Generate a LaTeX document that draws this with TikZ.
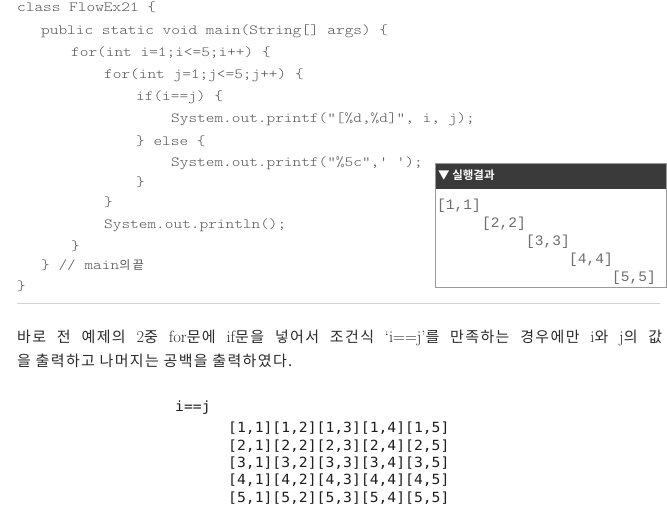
\documentclass[tikz,border=0pt]{standalone}
\usepackage{fontspec}
\newfontfamily\codefont{lmmonolt10-regular.otf}[FakeStretch=1.18]
\newfontfamily\kr{Noto Sans CJK KR}
\newfontfamily\krp{Noto Sans CJK KR}[LetterSpace=9]
\newfontfamily\krb{Noto Sans CJK KR Bold}
\newfontfamily\resfont{Liberation Mono}
\newfontfamily\gridfont{DejaVu Sans Mono}[FakeStretch=1.05]
\newcommand\latpart[1]{{\rmfamily\fontsize{16.5}{24}\selectfont #1}}
\definecolor{codegray}{HTML}{555555}
\definecolor{resgray}{HTML}{6E6E6E}
\definecolor{gridblack}{HTML}{1E1E1E}
\definecolor{paratext}{HTML}{2B2B2B}
\definecolor{headbar}{HTML}{3A3A3A}
\definecolor{boxline}{HTML}{9A9A9A}
\definecolor{rule}{HTML}{D2D2D2}
\tikzset{
  code/.style={anchor=base west, inner sep=0pt, text=codegray, font=\codefont\fontsize{14}{14}\selectfont},
  res/.style={anchor=base west, inner sep=0pt, text=resgray, font=\resfont\fontsize{14.5}{14.5}\selectfont},
  gridrow/.style={anchor=base west, inner sep=0pt, text=gridblack, font=\gridfont\fontsize{14}{14}\selectfont},
  para/.style={anchor=base west, inner sep=0pt, text=paratext, font=\krp\fontsize{15}{24}\selectfont},
  head/.style={anchor=base west, inner sep=0pt, text=white, font=\krb\fontsize{11.5}{11.5}\selectfont},
  resbox/.style={draw=boxline, line width=0.8pt},
  headfill/.style={fill=headbar, draw=headbar, line width=0.8pt},
  divider/.style={draw=rule, line width=0.7pt}
}
\begin{document}
\begin{tikzpicture}[x=1pt, y=-1pt]
\useasboundingbox[fill=white] (0,0) rectangle (667,518);
% code listing
\node[code] (c1)  at (17,12)  {class FlowEx21 \{};
\node[code] (c2)  at (41,35)  {public static void main(String[] args) \{};
\node[code] (c3)  at (71,57)  {for(int i=1;i<=5;i++) \{};
\node[code] (c4)  at (104,79) {for(int j=1;j<=5;j++) \{};
\node[code] (c5)  at (136,101) {if(i==j) \{};
\node[code] (c6)  at (171,123) {System.out.printf("[\%d,\%d]", i, j);};
\node[code] (c7)  at (136,146) {\} else \{};
\node[code] (c8)  at (171,167) {System.out.printf("\%5c",' ');};
\node[code] (c9)  at (136,187) {\}};
\node[code] (c10) at (104,207) {\}};
\node[code] (c11) at (104,229) {System.out.println();};
\node[code] (c12) at (71,251) {\}};
\node[code] (c13) at (41,270) {\} // main{\kr\fontsize{12}{12}\selectfont 의 끝}};
\node[code] (c14) at (17,291) {\}};
% result box
\path[headfill] (435,163) rectangle (666,188);
\path[resbox] (435,163) rectangle (666,287);
\node[head] (h) at (438,179.5) {▼ 실행결과};
\node[res] (r1) at (437,210) {[1,1]};
\node[res] (r2) at (482,228) {[2,2]};
\node[res] (r3) at (526,246) {[3,3]};
\node[res] (r4) at (569,264) {[4,4]};
\node[res] (r5) at (612,282) {[5,5]};
% divider
\path[divider] (17,303) -- (660,303);
% paragraph
\node[para] (p) at (17,343) {\parbox[t]{645pt}{바로 전 예제의 \latpart{2}중 \latpart{for}문에 \latpart{if}문을 넣어서 조건식 \latpart{‘i==j’}를 만족하는 경우에만 \latpart{i}와 \latpart{j}의 값\linebreak 을 출력하고 나머지는 공백을 출력하였다.}};
% grid
\node[gridrow] (ij) at (175,412) {i==j};
\node[gridrow] (g1) at (228,433) {[1,1][1,2][1,3][1,4][1,5]};
\node[gridrow] (g2) at (228,450.3) {[2,1][2,2][2,3][2,4][2,5]};
\node[gridrow] (g3) at (228,467.5) {[3,1][3,2][3,3][3,4][3,5]};
\node[gridrow] (g4) at (228,484.8) {[4,1][4,2][4,3][4,4][4,5]};
\node[gridrow] (g5) at (228,502) {[5,1][5,2][5,3][5,4][5,5]};
\end{tikzpicture}
\end{document}
